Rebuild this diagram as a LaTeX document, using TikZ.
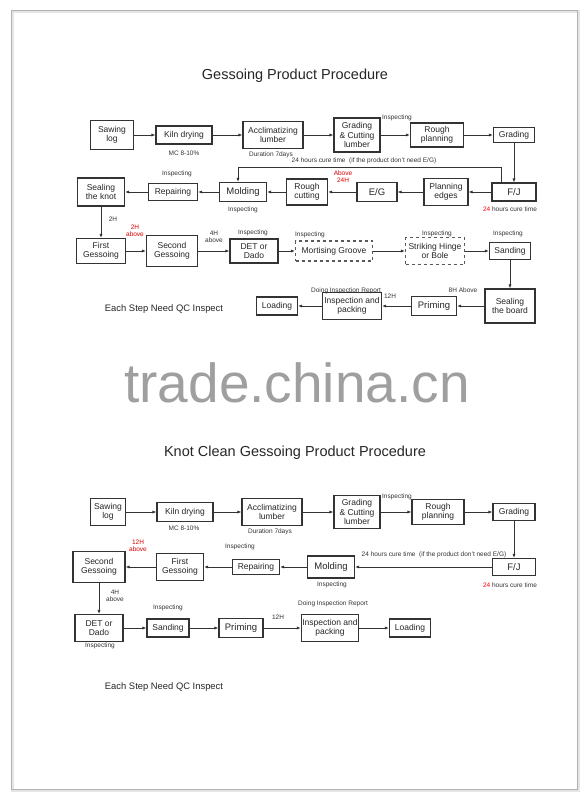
\documentclass[tikz,border=0pt]{standalone}
\usepackage{fontspec}
\setmainfont{Liberation Sans}
\usetikzlibrary{arrows.meta}

\tikzset{
  box/.style={draw=black!80, line width=1.2pt, fill=white, align=center, inner sep=1pt,
    font=\fontsize{8.5}{9.5}\selectfont, text=black!85},
  bigbox/.style={box, font=\fontsize{9.5}{10.5}\selectfont},
  dbox/.style={box, dashed, draw=black!65},
  lbl/.style={font=\fontsize{6.5}{7.2}\selectfont, text=black!80, inner sep=0.5pt, align=center},
  redlbl/.style={lbl, text=red!85!black},
  arr/.style={-{Latex[length=4pt,width=3.2pt]}, line width=1pt, draw=black!80},
  heading/.style={font=\fontsize{14.5}{16}\selectfont, text=black!85}
}

\begin{document}
\begin{tikzpicture}[x=1pt, y=-1pt]
        \useasboundingbox (0,0) rectangle (587,800);
        % page frame
        \draw[gray!20, line width=3pt] (12,12) rectangle (578,790);
        \draw[gray!60, line width=1pt] (11,11) rectangle (577,789);
        % watermark
        \node[font=\fontsize{55}{60}\selectfont, text=gray!75] (mark) at (297,383) {trade.china.cn};

        % ---- Gessoing Product Procedure ----
        \node[heading] (titleA) at (295,76) {Gessoing Product Procedure};
        % first row
        \node[box, minimum width=43, minimum height=29] (sawA) at (112,135) {Sawing\\log};
        \node[box, minimum width=56, minimum height=18] (kilnA) at (184,135) {Kiln drying};
        \node[box, minimum width=60, minimum height=27] (accA) at (273,135) {Acclimatizing\\lumber};
        \node[box, minimum width=46, minimum height=34] (gradcA) at (357,135) {Grading\\\& Cutting\\lumber};
        \node[box, minimum width=53, minimum height=24] (roughA) at (437,135) {Rough\\planning};
        \node[box, minimum width=41, minimum height=15] (gradA) at (514,135) {Grading};
        \node[lbl] (mcA) at (184,153) {MC 8-10\%};
        \node[lbl] (durA) at (271,155) {Duration 7days};
        \node[lbl] (inspA1) at (397,118) {Inspecting};
        % second row
        \node[bigbox, minimum width=44, minimum height=18] (fjA) at (514,192) {F/J};
        \node[box, minimum width=44, minimum height=27] (planA) at (446,192) {Planning\\edges};
        \node[bigbox, minimum width=40, minimum height=19] (egA) at (377,192) {E/G};
        \node[box, minimum width=41, minimum height=26] (rcutA) at (307,192) {Rough\\cutting};
        \node[bigbox, minimum width=47, minimum height=19] (moldA) at (243,192) {Molding};
        \node[box, minimum width=49, minimum height=17] (repA) at (173,192) {Repairing};
        \node[box, minimum width=47, minimum height=28] (sealA) at (101,192) {Sealing\\the knot};
        \node[lbl] (cureA) at (510,209) {{\color{red}24} hours cure time};
        \node[redlbl] (aboveA) at (343,177) {Above\\24H};
        \node[lbl] (inspA2) at (243,210) {Inspecting};
        \node[lbl] (inspA3) at (177,174) {Inspecting};
        \node[lbl] (twoA) at (113,219) {2H};
        \node[redlbl] (twoabA) at (135,231) {2H\\above};
        \coordinate (loopA) at (501,167);
        \coordinate (loopL) at (238,167);
        \node[lbl] (skipA) at (364,161) {24 hours cure time\ \ (if the product don't need E/G)};
        % third row
        \node[box, minimum width=49, minimum height=25] (firstA) at (101,251) {First\\Gessoing};
        \node[box, minimum width=51, minimum height=31] (secA) at (172,251) {Second\\Gessoing};
        \node[box, minimum width=48, minimum height=24] (detA) at (254,251) {DET or\\Dado};
        \node[dbox, minimum width=77, minimum height=20] (mortA) at (334,251) {Mortising Groove};
        \node[dbox, minimum width=59, minimum height=27] (strA) at (435,251) {Striking Hinge\\or Bole};
        \node[box, minimum width=41, minimum height=17] (sandA) at (510,251) {Sanding};
        \node[lbl] (fourA) at (214,237) {4H\\above};
        \node[lbl] (inspA4) at (253,233) {Inspecting};
        \node[lbl] (inspA5) at (310,235) {Inspecting};
        \node[lbl] (inspA6) at (437,234) {Inspecting};
        \node[lbl] (inspA7) at (508,234) {Inspecting};
        % fourth row
        \node[box, minimum width=50, minimum height=34] (sealbA) at (510,306) {Sealing\\the board};
        \node[bigbox, minimum width=45, minimum height=19] (primA) at (434,306) {Priming};
        \node[box, minimum width=59, minimum height=27] (ipackA) at (352,306) {Inspection and\\packing};
        \node[box, minimum width=41, minimum height=18] (loadA) at (277,306) {Loading};
        \node[lbl] (eightA) at (463,290) {8H Above};
        \node[lbl] (twelveA) at (390,296) {12H};
        \node[lbl] (reportA) at (346,291) {Doing Inspection Report};
        \node[font=\fontsize{9.4}{10}\selectfont, text=black!85] (qcA) at (164,309) {Each Step Need QC Inspect};

        % Draw the arrows
        \draw[arr] (sawA) -- (kilnA);
        \draw[arr] (kilnA) -- (accA);
        \draw[arr] (accA) -- (gradcA);
        \draw[arr] (gradcA) -- (roughA);
        \draw[arr] (roughA) -- (gradA);
        \draw[arr] (gradA) -- (fjA);
        \draw[arr] (fjA) -- (planA);
        \draw[arr] (planA) -- (egA);
        \draw[arr] (egA) -- (rcutA);
        \draw[arr] (rcutA) -- (moldA);
        \draw[arr] (moldA) -- (repA);
        \draw[arr] (repA) -- (sealA);
        \draw[arr] (sealA) -- (firstA);
        \draw[arr] (firstA) -- (secA);
        \draw[arr] (secA) -- (detA);
        \draw[arr] (detA) -- (mortA);
        \draw[arr] (mortA) -- (strA);
        \draw[arr] (strA) -- (sandA);
        \draw[arr] (sandA) -- (sealbA);
        \draw[arr] (sealbA) -- (primA);
        \draw[arr] (primA) -- (ipackA);
        \draw[arr] (ipackA) -- (loadA);
        \draw[arr] (fjA.north -| loopA) -- (loopA) -- (loopL) -- (loopL |- moldA.north);

        % ---- Knot Clean Gessoing Product Procedure ----
        \node[heading] (titleB) at (295,453) {Knot Clean Gessoing Product Procedure};
        % first row
        \node[box, minimum width=35, minimum height=27] (sawB) at (108,512) {Sawing\\log};
        \node[box, minimum width=56, minimum height=19] (kilnB) at (185,512) {Kiln drying};
        \node[box, minimum width=60, minimum height=27] (accB) at (272,512) {Acclimatizing\\lumber};
        \node[box, minimum width=46, minimum height=33] (gradcB) at (357,512) {Grading\\\& Cutting\\lumber};
        \node[box, minimum width=52, minimum height=25] (roughB) at (438,512) {Rough\\planning};
        \node[box, minimum width=42, minimum height=17] (gradB) at (514,512) {Grading};
        \node[lbl] (mcB) at (184,528) {MC 8-10\%};
        \node[lbl] (durB) at (270,532) {Duration 7days};
        \node[lbl] (inspB1) at (397,497) {Inspecting};
        % second row
        \node[bigbox, minimum width=43, minimum height=17] (fjB) at (514,567) {F/J};
        \node[bigbox, minimum width=47, minimum height=22] (moldB) at (331,567) {Molding};
        \node[box, minimum width=47, minimum height=15] (repB) at (256,567) {Repairing};
        \node[box, minimum width=47, minimum height=27] (firstB) at (180,567) {First\\Gessoing};
        \node[box, minimum width=52, minimum height=31] (secB) at (99,567) {Second\\Gessoing};
        \node[lbl] (cureB) at (510,585) {{\color{red}24} hours cure time};
        \node[lbl] (skipB) at (434,555) {24 hours cure time\ \ (if the product don't need E/G)};
        \node[lbl] (inspB2) at (332,585) {Inspecting};
        \node[lbl] (inspB3) at (240,547) {Inspecting};
        \node[redlbl] (twelveabB) at (138,546) {12H\\above};
        % third row
        \node[box, minimum width=48, minimum height=27] (detB) at (99,628) {DET or\\Dado};
        \node[box, minimum width=42, minimum height=18] (sandB) at (168,628) {Sanding};
        \node[bigbox, minimum width=44, minimum height=19] (primB) at (241,628) {Priming};
        \node[box, minimum width=57, minimum height=27] (ipackB) at (330,628) {Inspection and\\packing};
        \node[box, minimum width=41, minimum height=18] (loadB) at (410,628) {Loading};
        \node[lbl] (fourB) at (115,596) {4H\\above};
        \node[lbl] (inspB4) at (100,646) {Inspecting};
        \node[lbl] (inspB5) at (168,608) {Inspecting};
        \node[lbl] (twelveB) at (278,617) {12H};
        \node[lbl] (reportB) at (333,604) {Doing Inspection Report};
        \node[font=\fontsize{9.4}{10}\selectfont, text=black!85] (qcB) at (164,687) {Each Step Need QC Inspect};

        % Draw the arrows
        \draw[arr] (sawB) -- (kilnB);
        \draw[arr] (kilnB) -- (accB);
        \draw[arr] (accB) -- (gradcB);
        \draw[arr] (gradcB) -- (roughB);
        \draw[arr] (roughB) -- (gradB);
        \draw[arr] (gradB) -- (fjB);
        \draw[arr] (fjB) -- (moldB);
        \draw[arr] (moldB) -- (repB);
        \draw[arr] (repB) -- (firstB);
        \draw[arr] (firstB) -- (secB);
        \draw[arr] (secB) -- (detB);
        \draw[arr] (detB) -- (sandB);
        \draw[arr] (sandB) -- (primB);
        \draw[arr] (primB) -- (ipackB);
        \draw[arr] (ipackB) -- (loadB);
    \end{tikzpicture}
\end{document}
